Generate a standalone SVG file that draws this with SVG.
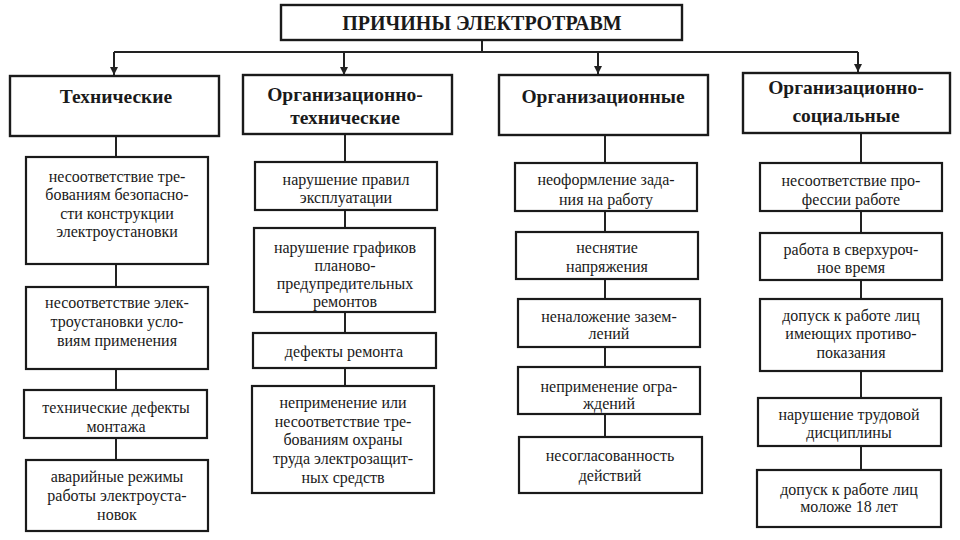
<svg xmlns="http://www.w3.org/2000/svg" width="960" height="540" viewBox="0 0 960 540">
<style>
.box{fill:#fff;stroke:#1a1a1a;stroke-width:2.2}
.hd{fill:#fff;stroke:#1a1a1a;stroke-width:2.4}
.ln{fill:none;stroke:#222;stroke-width:2}
text{font-family:"Liberation Serif","Times New Roman",serif;fill:#1a1a1a;text-anchor:middle}
.t{font-size:16px}
.h{font-size:19.5px;font-weight:bold}
.ttl{font-size:20px;font-weight:bold}
</style>
<defs>
<marker id="arr" viewBox="0 0 10 10" refX="10" refY="5" markerWidth="8" markerHeight="8" markerUnits="userSpaceOnUse" orient="auto">
<path d="M0,0 L10,5 L0,10 Z" fill="#222"/>
</marker>
</defs>
<rect width="960" height="540" fill="#fff"/>
<g id="connectors">
<path class="ln" d="M482,40 V52 M114,52 H858"/>
<path class="ln" d="M114,52 V75" marker-end="url(#arr)"/>
<path class="ln" d="M344,52 V75" marker-end="url(#arr)"/>
<path class="ln" d="M598,52 V74" marker-end="url(#arr)"/>
<path class="ln" d="M858,52 V72" marker-end="url(#arr)"/>
<path class="ln" d="M116,136 V157 M116,264 V287 M116,369 V390 M116,438 V460"/>
<path class="ln" d="M345,134 V162 M345,210 V228 M345,312 V333 M345,368 V386"/>
<path class="ln" d="M605,135 V163 M605,211 V232 M605,279 V299 M605,347 V367 M605,414 V437"/>
<path class="ln" d="M861,133 V163 M861,211 V233 M861,280 V299 M861,371 V398 M861,446 V470"/>
</g>
<g id="title">
<rect class="hd" x="281" y="5" width="401" height="35"/>
<text class="ttl" x="482" y="30">ПРИЧИНЫ ЭЛЕКТРОТРАВМ</text>
</g>
<g id="h1">
<rect class="hd" x="10" y="76" width="209" height="60"/>
<text class="h" x="116" y="103">Технические</text>
</g>
<g id="h2">
<rect class="hd" x="243" y="75" width="209" height="59"/>
<text class="h" x="345" y="101">Организационно-</text>
<text class="h" x="345" y="124">технические</text>
</g>
<g id="h3">
<rect class="hd" x="499" y="75" width="209" height="60"/>
<text class="h" x="603" y="103">Организационные</text>
</g>
<g id="h4">
<rect class="hd" x="743" y="73" width="207" height="60"/>
<text class="h" x="846" y="94">Организационно-</text>
<text class="h" x="846" y="122">социальные</text>
</g>
<g id="c1n1">
<rect class="box" x="26" y="157" width="182" height="107"/>
<text class="t" x="117" y="182">несоответствие тре-</text>
<text class="t" x="117" y="200">бованиям безопасно-</text>
<text class="t" x="117" y="219">сти конструкции</text>
<text class="t" x="117" y="237">электроустановки</text>
</g>
<g id="c1n2">
<rect class="box" x="26" y="287" width="182" height="82"/>
<text class="t" x="117" y="308">несоответствие элек-</text>
<text class="t" x="117" y="327">троустановки усло-</text>
<text class="t" x="117" y="346">виям применения</text>
</g>
<g id="c1n3">
<rect class="box" x="24" y="390" width="183" height="48"/>
<text class="t" x="116" y="413">технические дефекты</text>
<text class="t" x="116" y="432">монтажа</text>
</g>
<g id="c1n4">
<rect class="box" x="26" y="460" width="182" height="71"/>
<text class="t" x="117" y="482">аварийные режимы</text>
<text class="t" x="117" y="501">работы электроуста-</text>
<text class="t" x="117" y="520">новок</text>
</g>
<g id="c2n1">
<rect class="box" x="255" y="162" width="182" height="48"/>
<text class="t" x="346" y="185">нарушение правил</text>
<text class="t" x="346" y="203">эксплуатации</text>
</g>
<g id="c2n2">
<rect class="box" x="254" y="228" width="181" height="84"/>
<text class="t" x="345" y="253">нарушение графиков</text>
<text class="t" x="345" y="271">планово-</text>
<text class="t" x="345" y="289">предупредительных</text>
<text class="t" x="345" y="307">ремонтов</text>
</g>
<g id="c2n3">
<rect class="box" x="253" y="333" width="183" height="35"/>
<text class="t" x="344" y="357">дефекты ремонта</text>
</g>
<g id="c2n4">
<rect class="box" x="252" y="386" width="182" height="107"/>
<text class="t" x="343" y="408">неприменение или</text>
<text class="t" x="343" y="427">несоответствие тре-</text>
<text class="t" x="343" y="445">бованиям охраны</text>
<text class="t" x="343" y="464">труда электрозащит-</text>
<text class="t" x="343" y="483">ных средств</text>
</g>
<g id="c3n1">
<rect class="box" x="515" y="163" width="182" height="48"/>
<text class="t" x="606" y="185">неоформление зада-</text>
<text class="t" x="606" y="205">ния на работу</text>
</g>
<g id="c3n2">
<rect class="box" x="516" y="232" width="182" height="47"/>
<text class="t" x="607" y="253">неснятие</text>
<text class="t" x="607" y="272">напряжения</text>
</g>
<g id="c3n3">
<rect class="box" x="518" y="299" width="182" height="48"/>
<text class="t" x="609" y="322">неналожение зазем-</text>
<text class="t" x="609" y="339">лений</text>
</g>
<g id="c3n4">
<rect class="box" x="518" y="367" width="182" height="47"/>
<text class="t" x="609" y="392">неприменение огра-</text>
<text class="t" x="609" y="409">ждений</text>
</g>
<g id="c3n5">
<rect class="box" x="519" y="437" width="183" height="56"/>
<text class="t" x="610" y="461">несогласованность</text>
<text class="t" x="610" y="481">действий</text>
</g>
<g id="c4n1">
<rect class="box" x="760" y="163" width="182" height="48"/>
<text class="t" x="851" y="186">несоответствие про-</text>
<text class="t" x="851" y="205">фессии работе</text>
</g>
<g id="c4n2">
<rect class="box" x="760" y="233" width="182" height="47"/>
<text class="t" x="851" y="255">работа в сверхуроч-</text>
<text class="t" x="851" y="273">ное время</text>
</g>
<g id="c4n3">
<rect class="box" x="760" y="299" width="182" height="72"/>
<text class="t" x="851" y="321">допуск к работе лиц</text>
<text class="t" x="851" y="339">имеющих противо-</text>
<text class="t" x="851" y="358">показания</text>
</g>
<g id="c4n4">
<rect class="box" x="758" y="398" width="183" height="48"/>
<text class="t" x="849" y="420">нарушение трудовой</text>
<text class="t" x="849" y="438">дисциплины</text>
</g>
<g id="c4n5">
<rect class="box" x="757" y="470" width="184" height="57"/>
<text class="t" x="849" y="495">допуск к работе лиц</text>
<text class="t" x="849" y="512">моложе 18 лет</text>
</g>
</svg>
